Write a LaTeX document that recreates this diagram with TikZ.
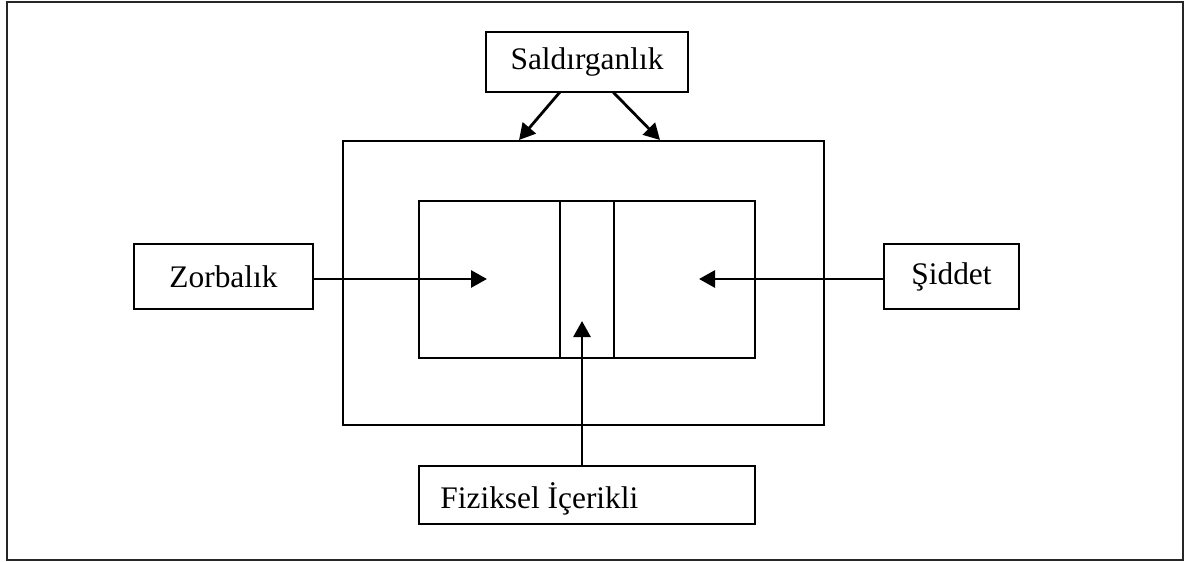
\documentclass[tikz,border=0pt]{standalone}
\usepackage{fontspec}
\setmainfont{Liberation Serif}
\usetikzlibrary{arrows.meta}
\begin{document}
\begin{tikzpicture}[x=0.5pt,y=-0.5pt,
  box/.style={draw=black,line width=1.1pt,rectangle,inner sep=0pt,font=\fontsize{15.7}{18}\selectfont},
  arr/.style={draw=black,line width=1.4pt,-{Triangle[length=8pt,width=8.5pt]}}]
\useasboundingbox (0,0) rectangle (1185,562);
\draw[line width=1.4pt,draw=black!85] (7,2) rectangle (1183,560);
% boxes
\node[box,minimum width=240.5pt,minimum height=142pt] (mid) at (583.5,283) {};
\node[box,minimum width=168pt,minimum height=78.5pt] (inner) at (587,279.5) {};
\node[box,minimum width=27pt,minimum height=78.5pt] (strip) at (587,279.5) {};
\node[box,minimum width=101pt,minimum height=30pt] (sal) at (587,62) {Saldırganlık};
\node[box,minimum width=89.5pt,minimum height=32.5pt] (zor) at (223.5,276.5) {Zorbalık};
\node[box,minimum width=67.5pt,minimum height=32.5pt] (sid) at (951.5,276.5) {Şiddet};
\node[box,minimum width=168pt,minimum height=29pt] (fiz) at (587,495) {};
\node[font=\fontsize{15.7}{18}\selectfont,anchor=base west,inner sep=0pt] (fiztxt) at (440,508) {Fiziksel İçerikli};
% connector ends
\coordinate (s1) at (560,92);
\coordinate (s2) at (613,92);
\coordinate (t1) at (519,140);
\coordinate (t2) at (660,140);
\coordinate (zt) at (487,279);
\coordinate (st) at (699,279);
\coordinate (fb) at (582,466);
\coordinate (ft) at (582,321);
% connectors
\draw[arr] (s1) -- (t1);
\draw[arr] (s2) -- (t2);
\draw[arr] (zor.east |- zt) -- (zt);
\draw[arr] (sid.west |- st) -- (st);
\draw[arr] (fb) -- (ft);
\end{tikzpicture}
\end{document}
